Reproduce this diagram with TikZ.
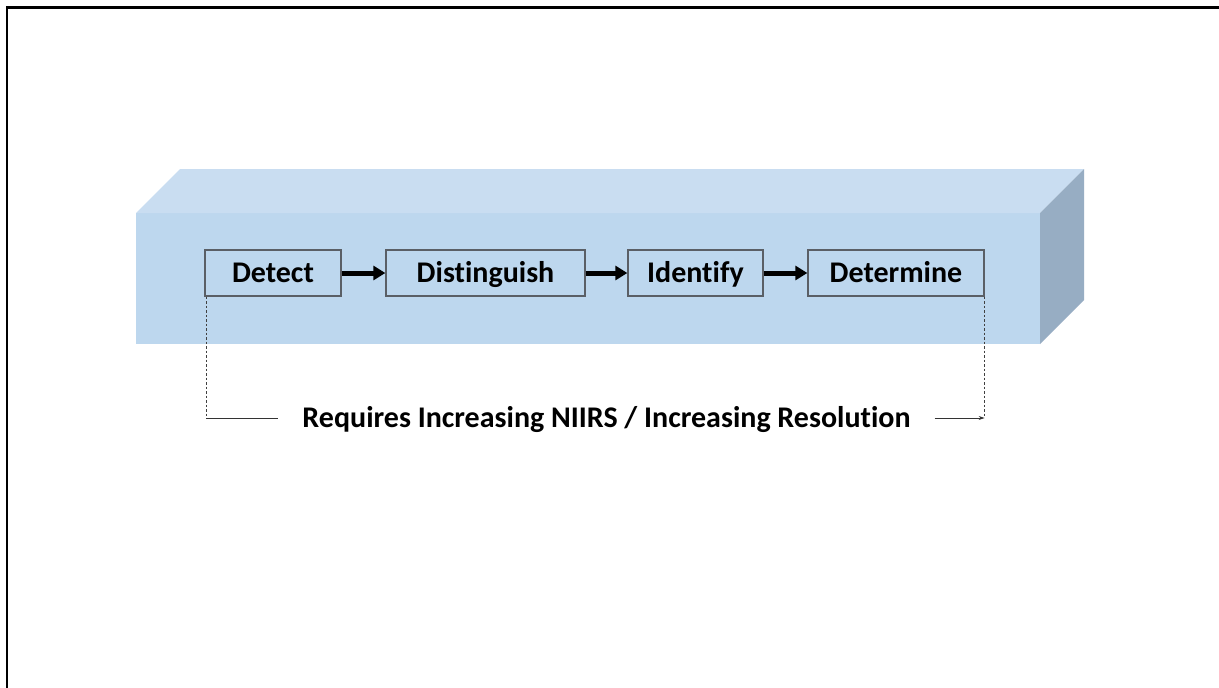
\documentclass[tikz,border=0pt]{standalone}
\usepackage{fontspec}
\setmainfont{Carlito}[Ligatures={NoCommon}]
\usetikzlibrary{arrows.meta}
\definecolor{frontc}{HTML}{BDD7EE}
\definecolor{topc}{HTML}{C9DDF1}
\definecolor{sidec}{HTML}{97ADC3}
\definecolor{boxedge}{HTML}{5A5F66}
\tikzset{
  stage/.style={draw=boxedge, line width=1.3pt, fill=frontc, minimum height=46pt, inner sep=0pt,
    text height=19pt, text depth=0pt,
    font=\fontsize{30}{32}\selectfont\bfseries},
  flow/.style={line width=5pt, -{Triangle[length=12pt,width=14pt]}},
  guide/.style={line width=0.8pt, draw=black!75, dash pattern=on 2.5pt off 2pt},
  lead/.style={line width=0.9pt, draw=black!80},
}
\begin{document}
\begin{tikzpicture}[x=1pt,y=-1pt]
\useasboundingbox (0,0) rectangle (1219,688);
\fill[white] (0,0) rectangle (1219,688);
% frame
\draw[line width=2.2pt] (7,690) -- (7,7.5) -- (1221,7.5);
% 3D slab
\fill[frontc] (136,213) rectangle (1040,344);
\fill[topc] (136,213) -- (180,169) -- (1084,169) -- (1040,213) -- cycle;
\fill[sidec] (1040,213) -- (1084,169) -- (1084,300) -- (1040,344) -- cycle;
% stages
\node[stage, minimum width=136pt] (det) at (273,273) {Detect};
\node[stage, minimum width=199pt] (dis) at (485.5,273) {Distinguish};
\node[stage, minimum width=135pt] (ide) at (695.5,273) {Identify};
\node[stage, minimum width=176pt] (dtm) at (896,273) {Determine};
\draw[flow] (det.east) -- (dis.west);
\draw[flow] (dis.east) -- (ide.west);
\draw[flow] (ide.east) -- (dtm.west);
% requirement line
\node[font=\fontsize{30}{32}\selectfont\bfseries, inner xsep=24pt, inner ysep=0pt,
  text height=19pt, text depth=0pt] (req) at (606.5,418) {Requires Increasing NIIRS / Increasing Resolution};
\coordinate (lc) at ([xshift=2pt]det.south west |- req.west);
\coordinate (rc) at (dtm.south east |- req.east);
\draw[guide] ([xshift=2pt]det.south west) -- (lc);
\draw[lead] (lc) -- (req.west);
\draw[guide] (dtm.south east) -- (rc);
\draw[lead, -{Stealth[length=6pt,width=4pt]}] (req.east) -- (rc);
\end{tikzpicture}
\end{document}
